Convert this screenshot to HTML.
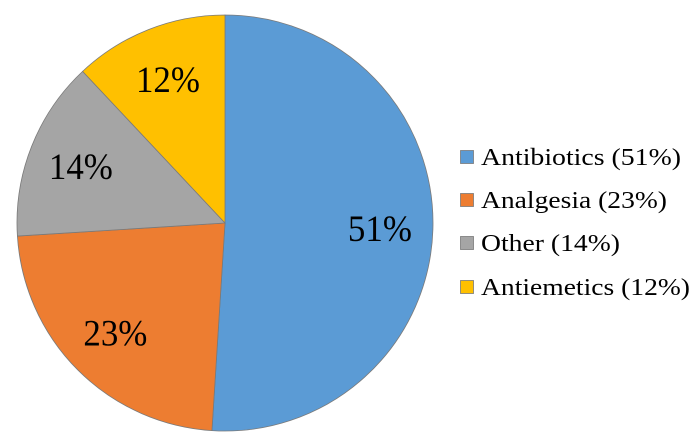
<!DOCTYPE html>
<html><head><meta charset="utf-8"><style>
html,body{margin:0;padding:0;background:#fff;}
svg, svg text{font-family:"Liberation Serif","DejaVu Serif","Times New Roman",serif;}
svg{display:block;}
</style></head><body>
<svg id="chart" width="700" height="446"></svg>
<script>
const categories = ["Antibiotics", "Analgesia", "Other", "Antiemetics"];
const values = [51, 23, 14, 12];
const colors = ["#5B9BD5", "#ED7D31", "#A5A5A5", "#FFC000"];
const NS = "http://www.w3.org/2000/svg";
const svg = document.getElementById("chart");
const cx = 225, cy = 223, r = 208;
const total = values.reduce((a, b) => a + b, 0);
function pt(frac, rad) {
  const a = frac * 2 * Math.PI;
  return [cx + rad * Math.sin(a), cy - rad * Math.cos(a)];
}
let acc = 0;
values.forEach((v, i) => {
  const f0 = acc / total, f1 = (acc + v) / total;
  acc += v;
  const [x0, y0] = pt(f0, r), [x1, y1] = pt(f1, r);
  const large = (f1 - f0) > 0.5 ? 1 : 0;
  const p = document.createElementNS(NS, "path");
  p.setAttribute("d", `M${cx},${cy} L${x0},${y0} A${r},${r} 0 ${large} 1 ${x1},${y1} Z`);
  p.setAttribute("fill", colors[i]);
  p.setAttribute("stroke", "#7a7a7a");
  p.setAttribute("stroke-width", "0.8");
  
  
  svg.appendChild(p);
  const [lx, ly] = pt((f0 + f1) / 2, 155);
  const t = document.createElementNS(NS, "text");
  t.setAttribute("x", lx - 32);
  t.setAttribute("y", ly + 13);
  t.setAttribute("font-size", "37");
  t.setAttribute("textLength", "64");
  t.setAttribute("lengthAdjust", "spacingAndGlyphs");
  t.setAttribute("fill", "#000");
  t.textContent = Math.round(v / total * 100) + "%";
  
  
  svg.appendChild(t);
});
const legendY = [157, 200, 243, 287];
const legendW = [200, 186, 139, 209];
categories.forEach((c, i) => {
  const g = document.createElementNS(NS, "g");
  
  
  const rc = document.createElementNS(NS, "rect");
  rc.setAttribute("x", 460.5); rc.setAttribute("y", legendY[i] - 6.5);
  rc.setAttribute("width", 13); rc.setAttribute("height", 13);
  rc.setAttribute("fill", colors[i]); rc.setAttribute("stroke", "#7a7a7a"); rc.setAttribute("stroke-width", "0.8");
  g.appendChild(rc);
  const t = document.createElementNS(NS, "text");
  t.setAttribute("x", 481); t.setAttribute("y", legendY[i] + 8);
  t.setAttribute("font-size", "24"); t.setAttribute("fill", "#000");
  t.setAttribute("textLength", legendW[i]);
  t.setAttribute("lengthAdjust", "spacingAndGlyphs");
  t.textContent = c + " (" + Math.round(values[i] / total * 100) + "%)";
  g.appendChild(t);
  svg.appendChild(g);
});
</script>
</body></html>
